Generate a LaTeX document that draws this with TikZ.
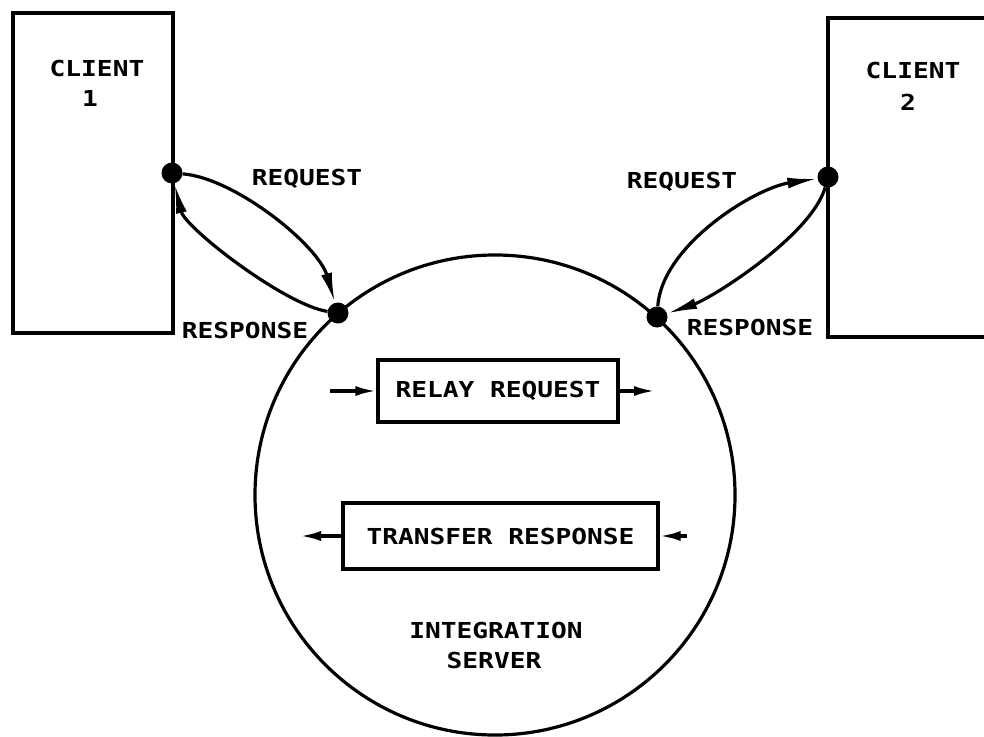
\documentclass[tikz,border=0pt]{standalone}
\usepackage{fontspec}
\setmainfont{Liberation Sans}
\newfontfamily\plotfont[FakeStretch=1.19]{DejaVu Sans Mono}
\usetikzlibrary{arrows.meta}
\begin{document}
\begin{tikzpicture}[x=1pt,y=-1pt,
  lw/.style={line width=3.2pt},
  box/.style={draw, lw, inner sep=0pt},
  dot/.style={circle, fill, inner sep=0pt, minimum size=21pt},
  lbl/.style={font=\plotfont\fontsize{22}{30}\selectfont\bfseries, inner sep=0pt},
  flow/.style={lw, -{Latex[length=30pt,width=11pt]}},
  sflow/.style={lw, -{Latex[length=21pt,width=10pt]}},
]
\useasboundingbox (0,0) rectangle (984,736);
\clip (0,0) rectangle (984,736);
% clients
\node[box, minimum width=160pt, minimum height=320pt] (client1) at (93,173) {};
\node[box, minimum width=172pt, minimum height=319pt] (client2) at (914,177.5) {};
\node[lbl, anchor=base] (c1a) at (97,76) {CLIENT};
\node[lbl, anchor=base] (c1b) at (90,106) {1};
\node[lbl, anchor=base] (c2a) at (913,78) {CLIENT};
\node[lbl, anchor=base] (c2b) at (908,110) {2};
% server
\node[draw, lw, circle, minimum size=480pt, inner sep=0pt] (srv) at (495,495) {};
% ports
\node[dot] (a) at (172,173) {};
\node[dot] (b) at (338,313) {};
\node[dot] (c) at (828,177) {};
\node[dot] (d) at (657,317) {};
% flows
\draw[flow] (a) .. controls (235,178) and (318,245) .. (b);
\draw[flow] (b) .. controls (285,305) and (185,228) .. (a);
\draw[flow] (d) .. controls (662,245) and (755,188) .. (c);
\draw[flow] (c) .. controls (812,235) and (712,298) .. (d);
\node[lbl, anchor=base] (req1) at (307,185) {REQUEST};
\node[lbl, anchor=base] (resp1) at (245,338) {RESPONSE};
\node[lbl, anchor=base] (req2) at (682,188) {REQUEST};
\node[lbl, anchor=base] (resp2) at (750,335) {RESPONSE};
% inner boxes
\node[box, lbl, minimum width=240pt, minimum height=62pt] (relay) at (498,391) {RELAY REQUEST};
\node[box, lbl, minimum width=315pt, minimum height=66pt] (xfer) at (500.5,536) {TRANSFER RESPONSE};
\coordinate (r1) at (330,391);
\coordinate (r2) at (655,391);
\coordinate (t1) at (300,536);
\coordinate (t2) at (687,536);
\draw[sflow] (r1) -- (relay);
\draw[sflow] (relay) -- (r2);
\draw[sflow] (xfer) -- (t1);
\draw[sflow] (t2) -- (xfer);
\node[lbl, anchor=base] (int) at (496,638) {INTEGRATION};
\node[lbl, anchor=base] (srvname) at (494,668) {SERVER};
\end{tikzpicture}
\end{document}
